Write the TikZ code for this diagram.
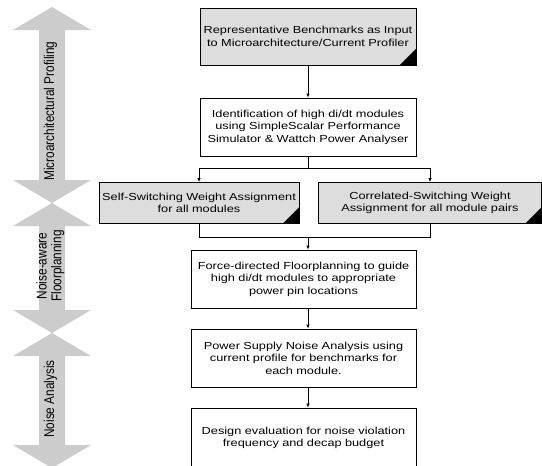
\documentclass[tikz,border=0pt]{standalone}
\usepackage{fontspec}
\setmainfont{Liberation Sans}
\newfontfamily\boxfont[FakeStretch=1.25]{Liberation Sans}
\usetikzlibrary{arrows.meta}
\definecolor{boxgray}{RGB}{221,221,221}
\definecolor{bandgray}{RGB}{204,204,204}
\newcommand{\phaselabel}[1]{\scalebox{1}[1.2]{\begin{tabular}{@{}c@{}}#1\end{tabular}}}
\tikzset{
	stepbox/.style={draw, line width=0.8pt, inner sep=0pt, align=center,
		font={\boxfont\fontsize{10.2}{12.5}\selectfont}},
	shaded/.style={stepbox, fill=boxgray},
	band/.style={fill=bandgray},
	phase/.style={rotate=90, inner sep=0pt, font={\fontsize{11.8}{12.5}\selectfont}},
	link/.style={line width=0.8pt, -{Latex[length=4pt, width=3.5pt]}}
}

\begin{document}
\begin{tikzpicture}[x=1pt, y=-1pt, line width=0.8pt]
	\useasboundingbox (0,0) rectangle (542,466);
	
	% phase bands
	\foreach \a/\b in {7/203, 203/333, 333/468}
		\fill[band] (52,\a) -- (91,\a+23) -- (65,\a+23) -- (65,\b-23) -- (91,\b-23)
			-- (52,\b) -- (13,\b-23) -- (39,\b-23) -- (39,\a+23) -- (13,\a+23) -- cycle;
	\node[phase] (prof) at (51,111) {\phaselabel{Microarchitectural Profiling}};
	\node[phase] (plan) at (51,266) {\phaselabel{Noise-aware\\Floorplanning}};
	\node[phase] (anal) at (51,399) {\phaselabel{Noise Analysis}};
	
	% flow
	\node[shaded, text width=216pt, minimum height=57pt] (bench) at (308,36.5)
		{Representative Benchmarks as Input\\to Microarchitecture/Current Profiler};
	\node[stepbox, text width=216pt, minimum height=58pt] (ident) at (308,127)
		{Identification of high di/dt modules\\using SimpleScalar Performance\\Simulator \& Wattch Power Analyser};
	\node[shaded, text width=200pt, minimum height=41pt] (selfw) at (199,203)
		{Self-Switching Weight Assignment\\for all modules};
	\node[shaded, text width=223pt, minimum height=41pt] (corrw) at (430,203)
		{Correlated-Switching Weight\\Assignment for all module pairs};
	\node[stepbox, text width=225pt, minimum height=58pt] (floor) at (303.5,279)
		{Force-directed Floorplanning to guide\\high di/dt modules to appropriate\\power pin locations};
	\node[stepbox, text width=225pt, minimum height=58pt] (noise) at (303.5,358)
		{Power Supply Noise Analysis using\\current profile for benchmarks for\\each module.};
	\node[stepbox, text width=225pt, minimum height=60pt] (evalu) at (303.5,438)
		{Design evaluation for noise violation\\frequency and decap budget};
	
	% black corner marks
	\foreach \n in {bench, selfw, corrw}
		\fill (\n.south east) -- ++(-17,0) -- ++(17,-17) -- cycle;
	
	\coordinate (split) at (308,168);
	\coordinate (merge) at (308,237);
	
	\draw[link] (bench) -- (ident);
	\draw (ident) -- (split);
	\draw[link] (split) -| (selfw);
	\draw[link] (split) -| (corrw);
	\draw (selfw) |- (merge);
	\draw (corrw) |- (merge);
	\draw[link] (merge) -- (merge |- floor.north);
	\draw[link] (floor.south -| merge) -- (noise.north -| merge);
	\draw[link] (noise.south -| merge) -- (evalu.north -| merge);
\end{tikzpicture}
\end{document}
